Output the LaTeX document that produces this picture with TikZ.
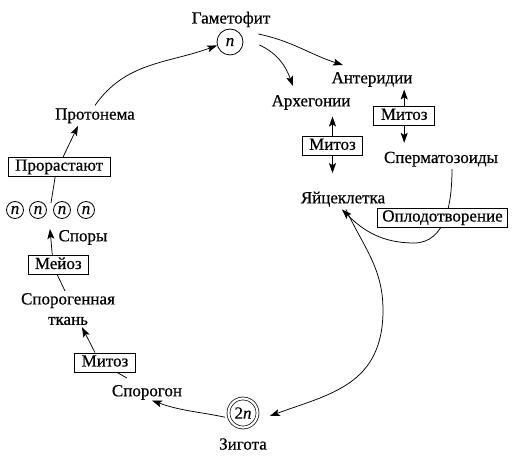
\documentclass[tikz,border=0pt]{standalone}
\usepackage{fontspec}
\setmainfont{Liberation Serif}[FakeBold=0.5]
\usetikzlibrary{arrows.meta}
\begin{document}
\begin{tikzpicture}[x=1pt,y=1pt,
  lbl/.style={inner sep=2pt, font=\fontsize{17}{20.4}\selectfont, text height=12pt, text depth=4pt},
  ml/.style={inner sep=2pt, font=\fontsize{17}{20.4}\selectfont, align=center},
  boxed/.style={draw, line width=0.8pt, inner xsep=7pt, inner ysep=2pt, font=\fontsize{17}{20.4}\selectfont, text height=11.5pt, text depth=3.5pt, fill=white},
  ring/.style={circle, draw, line width=0.8pt, inner sep=0pt, font=\fontsize{17}{20.4}\selectfont\itshape},
  conn/.style={line width=0.75pt},
  arr/.style={conn, -{Stealth[length=10pt,width=7pt,inset=2.2pt]}},
]
\useasboundingbox (0,0) rectangle (515,460);

% texts
\node[lbl] (gam) at (231,440.5) {Гаметофит};
\node[ring, minimum size=26pt] (ncirc) at (230,418) {n};
\node[lbl] (anter) at (372,380.7) {Антеридии};
\node[lbl] (arch) at (311,357.7) {Архегонии};
\node[boxed] (mit1) at (404.2,344.2) {Митоз};
\node[lbl] (sperm) at (441,301) {Сперматозоиды};
\node[boxed] (mit2) at (332.5,314.2) {Митоз};
\node[lbl] (egg) at (343,260.7) {Яйцеклетка};
\node[ring, double, double distance=2.2pt, line width=0.7pt, minimum size=29pt, font=\fontsize{17}{20.4}\selectfont] (zyg) at (243,47) {2\textit{n}};
\node[lbl] (zygtxt) at (243,14.4) {Зигота};
\node[lbl] (sporog) at (147,67.7) {Спорогон};
\node[boxed] (mit3) at (105,97.5) {Митоз};
\node[ml] (sptk) at (68,150.9) {Спорогенная\\ткань};
\node[boxed] (meioz) at (58.3,195) {Мейоз};
\node[lbl] (spory) at (83,222.7) {Споры};
\node[ring, minimum size=17pt] (c1) at (15,250) {n};
\node[ring, minimum size=17pt] (c2) at (38,250) {n};
\node[ring, minimum size=17pt] (c3) at (62,250) {n};
\node[ring, minimum size=17pt] (c4) at (86,250) {n};
\node[boxed] (prorast) at (59.2,293.3) {Прорастают};
\node[lbl] (proton) at (95,344.4) {Протонема};

\coordinate (fbot) at (414,217);
\coordinate (zmid) at (383,150);
\coordinate (sptip) at (50,231);
\coordinate (sptop) at (51,257);

% connectors
\draw[arr] (proton.north) to[out=55,in=200] (ncirc.195);
\draw[arr] ([shift={(15pt,8pt)}]ncirc.east) to[out=-12,in=162] ([shift={(-29pt,4pt)}]anter.north);
\draw[arr] ([shift={(16pt,-3pt)}]ncirc.east) to[out=-25,in=110] ([shift={(-18pt,6pt)}]arch.north);
\draw[arr] (mit1.north) -- (mit1.north |- anter.south);
\draw[arr, shorten >=6pt] (mit1.south) -- (mit1.south |- sperm.north);
\draw[arr, shorten >=4pt] (mit2.north) -- (mit2.north |- arch.south);
\draw[arr, shorten >=16pt] (mit2.south) -- (mit2.south |- egg.north);
\draw[arr] ([xshift=11pt]sperm.south) to[out=-90,in=0] (fbot) to[out=180,in=-45] ([xshift=-1pt]egg.south);
\node[boxed, inner xsep=5pt] (fert) at (442.5,242.5) {Оплодотворение};
\draw[arr] ([xshift=3pt]egg.south) to[out=-65,in=90] (zmid) .. controls +(0,-75) and +(60,22) .. ([shift={(12pt,-3pt)}]zyg.east);
\draw[arr, shorten <=4pt] (zyg.200) to[out=168,in=-20] ([shift={(5pt,2pt)}]sporog.south);
\draw[conn] ([shift={(-20pt,4pt)}]sporog.north) -- ([xshift=12pt]mit3.south);
\draw[arr] ([xshift=-10pt]mit3.north) -- ([xshift=14pt]sptk.south);
\draw[conn] ([xshift=-3pt]sptk.north) -- ([xshift=-1pt]meioz.south);
\draw[arr] ([xshift=-6pt]meioz.north) -- (sptip);
\draw[conn] (sptop) -- ([xshift=-4pt]prorast.south);
\draw[arr] ([xshift=4pt]prorast.north) -- ([xshift=-17pt]proton.south);
\end{tikzpicture}
\end{document}
